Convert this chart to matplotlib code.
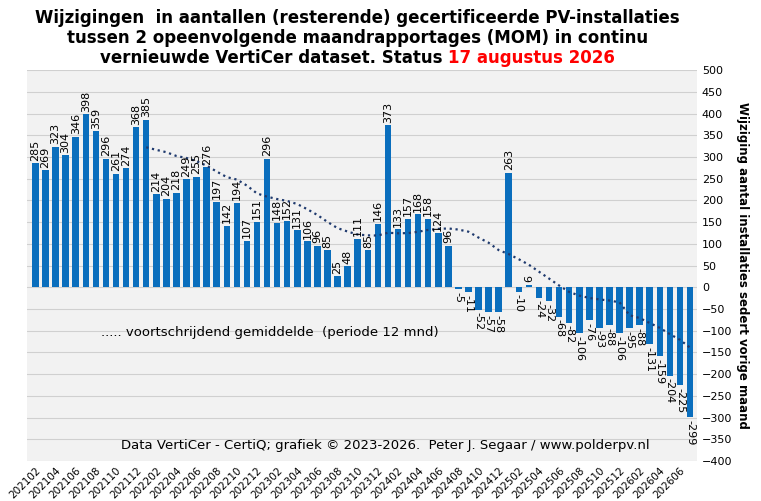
import numpy as np
import pandas as pd
import matplotlib.pyplot as plt

months = pd.period_range("2021-02", "2026-07", freq="M")
labels = [p.strftime("%Y%m") for p in months]
values = [285, 269, 323, 304, 346, 398, 359, 296, 261, 274, 368, 385,
          214, 204, 218, 249, 255, 276, 197, 142, 194, 107, 151, 296,
          148, 152, 131, 106, 96, 85, 25, 48, 111, 85, 146, 373,
          133, 157, 168, 158, 124, 96, -5, -11, -52, -57, -58, 263,
          -10, 6, -24, -32, -68, -82, -106, -76, -93, -88, -106, -95,
          -88, -131, -159, -204, -225, -299]

avg = pd.Series(values).rolling(12).mean()

fig = plt.figure(figsize=(7.61, 5.01), dpi=100)
ax = fig.add_axes([0.036, 0.08, 0.880, 0.78])
ax.set_facecolor("#f2f2f2")
x = np.arange(len(values))
ax.bar(x, values, width=0.65, color="#0a6ebd", zorder=2)
ax.plot(x, avg, ls=":", color="#1f3a6e", lw=1.6, zorder=3)

for xi, v in zip(x, values):
    if v >= 0:
        ax.text(xi, v + 6, str(v), rotation=270 if False else 90, ha="center", va="bottom", fontsize=8)
    else:
        ax.text(xi, v - 6, str(v), rotation=270, ha="center", va="top", fontsize=8)

ax.set_xlim(-0.8, len(values) - 0.3)
ax.set_ylim(-400, 500)
ax.set_yticks(range(-400, 501, 50))
ax.yaxis.tick_right()
ax.yaxis.set_label_position("right")
ax.tick_params(axis="y", labelsize=8, length=0)
ax.grid(axis="y", color="#d0d0d0", lw=0.8, zorder=0)
ax.set_xticks(x[::2])
ax.set_xticklabels(labels[::2], rotation=45, ha="right", fontsize=7.5, rotation_mode="anchor")
ax.tick_params(axis="x", length=0)
for s in ax.spines.values():
    s.set_visible(False)
ax.set_ylabel("Wijziging aantal installaties sedert vorige maand", rotation=270,
              labelpad=12, fontsize=8.5, fontweight="bold")

ax.text(0.11, 0.32, "..... voortschrijdend gemiddelde  (periode 12 mnd)",
        transform=ax.transAxes, fontsize=9.5)
ax.text(0.14, 0.03, "Data VertiCer - CertiQ; grafiek \u00a9 2023-2026.  Peter J. Segaar / www.polderpv.nl",
        transform=ax.transAxes, fontsize=9.5)

fig.text(0.47, 0.965, "Wijzigingen  in aantallen (resterende) gecertificeerde PV-installaties",
         ha="center", va="center", fontsize=12, fontweight="bold")
fig.text(0.47, 0.925, "tussen 2 opeenvolgende maandrapportages (MOM) in continu",
         ha="center", va="center", fontsize=12, fontweight="bold")
t1 = "vernieuwde VertiCer dataset. Status "
t2 = "17 augustus 2026"
txt = fig.text(0.47, 0.885, t1 + " " * 0, ha="right", va="center", fontsize=12, fontweight="bold")
fig.canvas.draw()
bb = txt.get_window_extent()
w1 = bb.width
txt2 = fig.text(0, 0.885, t2, va="center", fontsize=12, fontweight="bold", color="red")
w2 = txt2.get_window_extent(fig.canvas.get_renderer()).width
W = fig.bbox.width
start = 0.47 * W - (w1 + w2) / 2
txt.set_x((start + w1) / W)
txt2.set_x((start + w1) / W)

fig.savefig("out.png", dpi=100)
